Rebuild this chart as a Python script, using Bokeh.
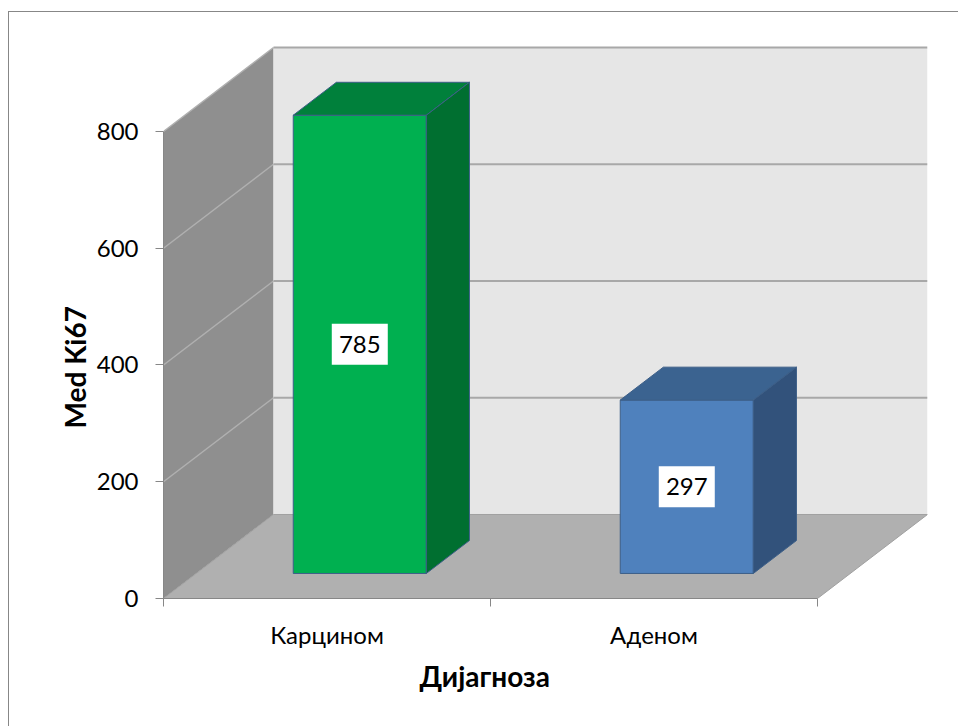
from bokeh.plotting import figure
from bokeh.models import Range1d, FixedTicker, Title
from bokeh.core.properties import value
from bokeh.embed import file_html
from bokeh.resources import INLINE

# ---- data ----
categories = ["Карцином", "Аденом"]
values = [785, 297]
y_ticks = [0, 200, 400, 600, 800]
y_title = "Med Ki67"
x_title = "Дијагноза"

# ---- style / geometry (3D oblique projection) ----
DX = 0.3364      # depth offset in category units
DY = 143.9       # depth offset in value units
F1, F2 = 0.298, 0.69   # bar front / back depth fraction
BAR_W = 0.407
WALL_TOP = max(y_ticks)
front_col = ["#00b050", "#4f81bd"]
top_col = ["#00803b", "#3b6390"]
side_col = ["#006f30", "#32527b"]
FONT = "Lato"
FS = "24px"

n = len(categories)
p = figure(width=958, height=726, output_backend="svg", toolbar_location=None,
           x_range=Range1d(0, 2.3364), y_range=Range1d(0, 947.3),
           min_border_left=163, min_border_right=31, min_border_top=45, min_border_bottom=128)
p.border_fill_color = None
p.background_fill_color = None
p.styles = {"background": "linear-gradient(#878787,#878787) 8px 11px / 1px 100% no-repeat, "
                          "linear-gradient(#878787,#878787) 8px 11px / 100% 1px no-repeat, white"}
p.grid.visible = False
p.outline_line_color = None

# walls
p.patch([0, DX, DX, 0], [0, DY, WALL_TOP + DY, WALL_TOP], fill_color="#8f8f8f", line_color=None)
p.patch([DX, DX + n, DX + n, DX], [DY, DY, WALL_TOP + DY, WALL_TOP + DY], fill_color="#e6e6e6", line_color=None)
# gridlines
for t in y_ticks[1:]:
    p.line([DX, DX + n], [t + DY, t + DY], line_color="#a8a8a8", line_width=2)
    p.line([0, DX], [t, t + DY], line_color="#b0b0b0", line_width=1.5)
# floor
p.patch([0, n, n + DX, DX], [0, 0, DY, DY], fill_color="#b0b0b0", line_color="#a0a0a0", line_width=1)

# bars
for i, v in enumerate(values):
    xl = i + 0.5 - BAR_W / 2 + F1 * DX
    xr = i + 0.5 + BAR_W / 2 + F1 * DX
    y0 = F1 * DY
    ex = (F2 - F1) * DX
    ey = (F2 - F1) * DY
    p.patch([xl, xr, xr, xl], [y0, y0, y0 + v, y0 + v], fill_color=front_col[i],
            line_color="#3d5f88", line_width=1)
    p.patch([xl, xl + ex, xr + ex, xr], [y0 + v, y0 + v + ey, y0 + v + ey, y0 + v],
            fill_color=top_col[i], line_color="#3d5f88", line_width=1)
    p.patch([xr, xr + ex, xr + ex, xr], [y0, y0 + ey, y0 + v + ey, y0 + v],
            fill_color=side_col[i], line_color="#3d5f88", line_width=1)
    cx = (xl + xr) / 2
    cy = y0 + v / 2
    p.rect([cx], [cy], width=56, height=41, width_units="screen", height_units="screen",
           fill_color="white", line_color=None)
    p.text([cx], [cy], text=[str(v)], text_align="center", text_baseline="middle",
           text_font=value(FONT), text_font_size=FS, text_color="black")

# y axis
ya = p.yaxis[0]
ya.ticker = FixedTicker(ticks=y_ticks, minor_ticks=[])
ya.bounds = (0, WALL_TOP)
ya.axis_line_color = "#878787"
ya.major_tick_line_color = "#878787"
ya.major_tick_out = 8
ya.major_tick_in = 0
ya.major_label_standoff = 17
ya.major_label_text_font = FONT
ya.major_label_text_font_size = FS
ya.major_label_text_color = "black"

# x axis
xa = p.xaxis[0]
xa.ticker = FixedTicker(ticks=[i + 0.5 for i in range(n)], minor_ticks=list(range(n + 1)))
xa.major_label_overrides = {i + 0.5: c for i, c in enumerate(categories)}
xa.bounds = (0, n)
xa.axis_line_color = "#878787"
xa.major_tick_line_color = None
xa.minor_tick_line_color = "#878787"
xa.minor_tick_out = 8
xa.minor_tick_in = 0
xa.major_label_standoff = 13
xa.major_label_text_font = FONT
xa.major_label_text_font_size = FS
xa.major_label_text_color = "black"

# axis titles (as side titles so they can be placed along the axis)
p.add_layout(Title(text=y_title, align="left", offset=170, standoff=4,
                   text_font=FONT, text_font_size="28px", text_font_style="bold",
                   text_color="black"), "left")
p.add_layout(Title(text=x_title, align="left", offset=256, standoff=10,
                   text_font=FONT, text_font_size="28px", text_font_style="bold",
                   text_color="black"), "below")

open("out.html", "w").write(file_html(p, INLINE))
